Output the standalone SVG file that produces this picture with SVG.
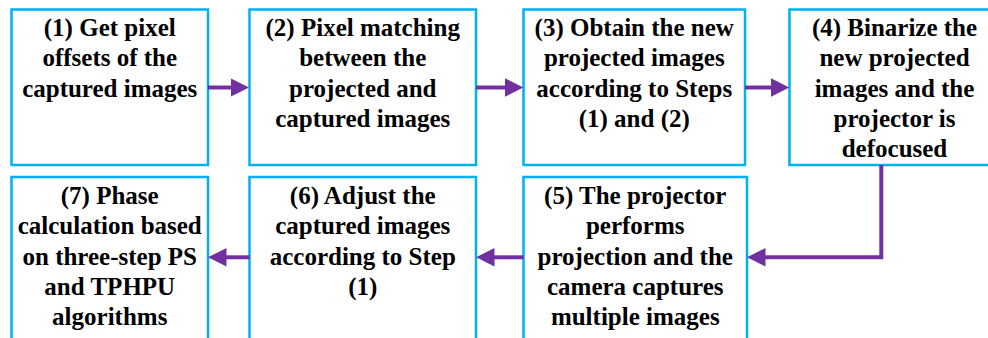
<svg xmlns="http://www.w3.org/2000/svg" width="988" height="338" viewBox="0 0 988 338">
<style>
.box{fill:#fff;stroke:#00b0f0;stroke-width:2.5}
.t{font-family:'Liberation Serif','Times New Roman',Tinos,Times,'DejaVu Serif','Noto Serif',serif;font-weight:700;font-size:25px;fill:#000;text-anchor:middle}
.c{fill:none;stroke:#7030a0;stroke-width:4;stroke-linejoin:miter}
</style>
<defs>
<marker id="ah" markerUnits="userSpaceOnUse" markerWidth="20" markerHeight="20" refX="1" refY="9.25" orient="auto">
<path d="M0,0 L18.5,9.25 L0,18.5 Z" fill="#7030a0"/>
</marker>
</defs>
<rect width="988" height="338" fill="#fff"/>
<g id="n1">
<rect class="box" x="11.5" y="9.5" width="196.5" height="155.5"/>
<text class="t" font-family="Liberation Serif, serif"><tspan x="109.75" y="36">(1) Get pixel</tspan><tspan x="109.75" y="66.3">offsets of the</tspan><tspan x="109.75" y="96.5">captured images</tspan></text>
</g>
<g id="n2">
<rect class="box" x="249.5" y="9.5" width="226.5" height="155.5"/>
<text class="t"><tspan x="362.75" y="36">(2) Pixel matching</tspan><tspan x="362.75" y="66.3">between the</tspan><tspan x="362.75" y="96.5">projected and</tspan><tspan x="362.75" y="126.8">captured images</tspan></text>
</g>
<g id="n3">
<rect class="box" x="523.5" y="9.5" width="221.5" height="155.5"/>
<text class="t"><tspan x="634.25" y="36">(3) Obtain the new</tspan><tspan x="634.25" y="66.3">projected images</tspan><tspan x="634.25" y="96.5">according to Steps</tspan><tspan x="634.25" y="126.8">(1) and (2)</tspan></text>
</g>
<g id="n4">
<rect class="box" x="789.5" y="9.5" width="212" height="155.5"/>
<text class="t"><tspan x="894.5" y="36">(4) Binarize the</tspan><tspan x="894.5" y="66.3">new projected</tspan><tspan x="894.5" y="96.5">images and the</tspan><tspan x="894.5" y="126.8">projector is</tspan><tspan x="894.5" y="157">defocused</tspan></text>
</g>
<g id="n5">
<rect class="box" x="523.5" y="177" width="223.5" height="170"/>
<text class="t"><tspan x="635.25" y="204">(5) The projector</tspan><tspan x="635.25" y="234.3">performs</tspan><tspan x="635.25" y="264.5">projection and the</tspan><tspan x="635.25" y="294.8">camera captures</tspan><tspan x="635.25" y="325">multiple images</tspan></text>
</g>
<g id="n6">
<rect class="box" x="249.5" y="177" width="226.5" height="170"/>
<text class="t"><tspan x="362.75" y="204">(6) Adjust the</tspan><tspan x="362.75" y="234.3">captured images</tspan><tspan x="362.75" y="264.5">according to Step</tspan><tspan x="362.75" y="294.8">(1)</tspan></text>
</g>
<g id="n7">
<rect class="box" x="11.5" y="177" width="196.5" height="170"/>
<text class="t"><tspan x="109.75" y="204">(7) Phase</tspan><tspan x="109.75" y="234.3">calculation based</tspan><tspan x="109.75" y="264.5">on three-step PS</tspan><tspan x="109.75" y="294.8">and TPHPU</tspan><tspan x="109.75" y="325">algorithms</tspan></text>
</g>
<g id="connectors">
<path class="c" d="M208,87.5 H231.5" marker-end="url(#ah)"/>
<path class="c" d="M476,87.5 H505.8" marker-end="url(#ah)"/>
<path class="c" d="M745,87.5 H771.8" marker-end="url(#ah)"/>
<path class="c" d="M881.3,165 V257.3 H764.5" marker-end="url(#ah)"/>
<path class="c" d="M523.5,257.3 H493.5" marker-end="url(#ah)"/>
<path class="c" d="M249.5,257.3 H225.5" marker-end="url(#ah)"/>
</g>
</svg>
